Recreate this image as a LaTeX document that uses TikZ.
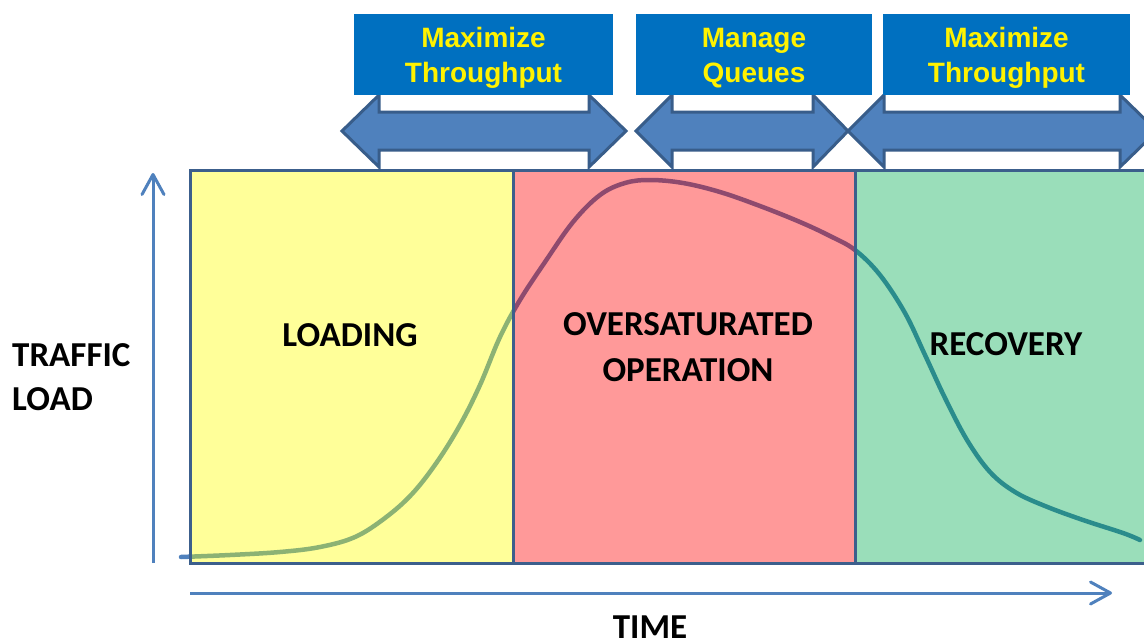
\documentclass[tikz,border=0pt]{standalone}
\usepackage{fontspec}
\setmainfont{Carlito}
\newfontfamily\boxfont{Liberation Sans}
\usetikzlibrary{arrows.meta}

\definecolor{loadfill}{HTML}{FFFF99}
\definecolor{overfill}{HTML}{FF9999}
\definecolor{recfill}{HTML}{9ADEBA}
\definecolor{panelline}{HTML}{3C5F8C}
\definecolor{axisblue}{HTML}{4F81BD}
\definecolor{arrowline}{HTML}{385D8A}
\definecolor{boxblue}{HTML}{0070C0}
\definecolor{curveload}{HTML}{8CB274}
\definecolor{curveover}{HTML}{8E4A6E}
\definecolor{curverec}{HTML}{2A8C8C}

% the traffic-load curve, drawn with the given options
\newcommand\trafficcurve[1]{%
  \draw[#1, line width=4.5pt, line cap=round]
    plot[smooth, tension=0.6] coordinates {
      (181,557) (230,555) (280,552) (320,547) (355,537) (385,518)
      (412,494) (437,462) (460,425) (480,385) (500,337) (520,300)
      (545,262) (573,222) (600,195) (625,183) (650,180) (683,183)
      (720,192) (760,206) (800,222) (830,236) (855,250) (880,275)
      (905,313) (925,355) (945,398) (967,440) (990,472) (1015,492)
      (1045,506) (1083,520) (1123,533) (1140,540)};}

% double-headed block arrow: left tip, left head base, right head base, right tip
\newcommand\dblarrow[4]{%
  \draw[dblarrow] (#1,131) -- (#2,95) -- (#2,112) -- (#3,112) -- (#3,95)
    -- (#4,131) -- (#3,167) -- (#3,150) -- (#2,150) -- (#2,167) -- cycle;}

\begin{document}
\begin{tikzpicture}[x=1pt, y=-1pt,
  panel/.style={fill=#1, draw=none, inner sep=0pt, outer sep=0pt,
    minimum height=393pt, anchor=north west},
  border/.style={draw=panelline, line width=3pt},
  dblarrow/.style={fill=axisblue, draw=arrowline, line width=3pt, line join=miter},
  goalbox/.style={fill=boxblue, draw=none, inner sep=0pt, outer sep=0pt,
    minimum height=81pt, anchor=north west},
  goaltext/.style={text=yellow, inner sep=0pt, anchor=base,
    font=\boxfont\bfseries\fontsize{28}{33}\selectfont},
  phase/.style={inner sep=0pt, anchor=base,
    font=\bfseries\fontsize{35}{42}\selectfont},
  axis/.style={draw=axisblue, line width=3pt,
    -{Straight Barb[length=20pt, width=22pt, round]}},
]
\clip (0,0) rectangle (1144,643);
\fill[white] (0,0) rectangle (1144,643);

% phase panels
\node[panel=loadfill, minimum width=323pt] (loading) at (190,170) {};
\node[panel=overfill, minimum width=342pt] (over) at (513,170) {};
\node[panel=recfill, minimum width=300pt] (recovery) at (855,170) {};

% traffic load curve, coloured per panel
\begin{scope}
  \clip (0,0) rectangle (190,643);
  \trafficcurve{axisblue}
\end{scope}
\begin{scope}
  \clip (loading.north west) rectangle (loading.south east);
  \trafficcurve{curveload}
\end{scope}
\begin{scope}
  \clip (over.north west) rectangle (over.south east);
  \trafficcurve{curveover}
\end{scope}
\begin{scope}
  \clip (recovery.north west) rectangle (recovery.south east);
  \trafficcurve{curverec}
\end{scope}

% panel outlines
\draw[border] (loading.south west) rectangle (recovery.north east);
\draw[border] (loading.north east) -- (loading.south east);
\draw[border] (over.north east) -- (over.south east);

% phase labels
\node[phase] (lload) at (350,346) {LOADING};
\node[phase] (lover1) at (688,335) {OVERSATURATED};
\node[phase] (lover2) at (688,381) {OPERATION};
\node[phase] (lrec) at (1006,355) {RECOVERY};

% axes
\coordinate (yfoot) at (153,563);
\coordinate (ytop) at (153,173);
\coordinate (xfoot) at (190,593);
\coordinate (xend) at (1112,593);
\draw[axis] (yfoot) -- (ytop);
\draw[axis] (xfoot) -- (xend);
\node[phase, anchor=base west] (ylab1) at (12,366) {TRAFFIC};
\node[phase, anchor=base west] (ylab2) at (12,410) {LOAD};
\node[phase] (xlab) at (650,638) {TIME};

% strategy arrows
\dblarrow{342}{379}{589}{626}
\dblarrow{636}{672}{813}{848}
\dblarrow{848}{884}{1120}{1157}

% strategy boxes
\node[goalbox, minimum width=259pt] (goal1) at (354,14) {};
\node[goalbox, minimum width=236pt] (goal2) at (636,14) {};
\node[goalbox, minimum width=247pt] (goal3) at (883,14) {};
\node[goaltext] (g1a) at (483.5,47.5) {Maximize};
\node[goaltext] (g1b) at (483.5,82) {Throughput};
\node[goaltext] (g2a) at (754,47.5) {Manage};
\node[goaltext] (g2b) at (754,82) {Queues};
\node[goaltext] (g3a) at (1006.5,47.5) {Maximize};
\node[goaltext] (g3b) at (1006.5,82) {Throughput};
\end{tikzpicture}
\end{document}
